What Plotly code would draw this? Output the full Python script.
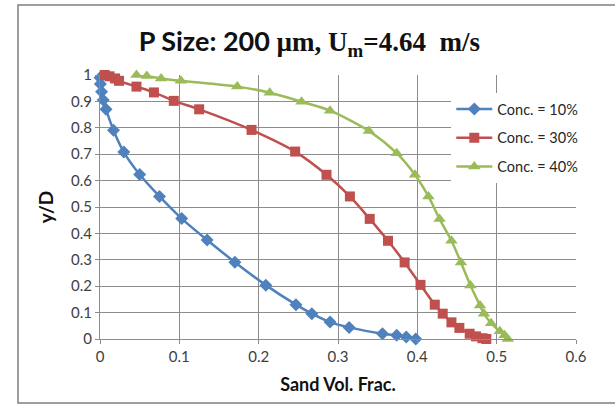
import plotly.graph_objects as go

# Sand concentration profiles across the pipe (y/D vs. volume fraction)
conc_10_x = [0.0, 0.0005, 0.002, 0.004, 0.0076, 0.017, 0.030, 0.050, 0.075, 0.103, 0.135,
             0.170, 0.209, 0.247, 0.267, 0.290, 0.314, 0.356, 0.374, 0.386, 0.398]
conc_10_y = [0.99, 0.966, 0.937, 0.905, 0.870, 0.791, 0.708, 0.623, 0.540, 0.456, 0.375,
             0.291, 0.204, 0.130, 0.096, 0.064, 0.044, 0.020, 0.014, 0.008, 0.0]

conc_30_x = [0.006, 0.012, 0.019, 0.024, 0.046, 0.068, 0.093, 0.125, 0.191, 0.246, 0.2855,
             0.315, 0.340, 0.363, 0.384, 0.404, 0.422, 0.432, 0.443, 0.453, 0.466, 0.474,
             0.482, 0.487]
conc_30_y = [1.0, 0.995, 0.987, 0.978, 0.956, 0.934, 0.902, 0.870, 0.792, 0.710, 0.622,
             0.540, 0.455, 0.372, 0.290, 0.205, 0.130, 0.096, 0.063, 0.042, 0.020, 0.010,
             0.003, 0.0]

conc_40_x = [0.046, 0.059, 0.077, 0.102, 0.173, 0.214, 0.254, 0.290, 0.339, 0.374, 0.397,
             0.414, 0.428, 0.443, 0.455, 0.467, 0.479, 0.484, 0.493, 0.504, 0.510, 0.514]
conc_40_y = [1.0, 0.996, 0.987, 0.978, 0.956, 0.933, 0.899, 0.865, 0.788, 0.704, 0.622,
             0.540, 0.455, 0.372, 0.290, 0.203, 0.127, 0.096, 0.060, 0.029, 0.014, 0.0]

series_names = ["Conc. = 10%", "Conc. = 30%", "Conc. = 40%"]
x_tickvals = [0, 0.1, 0.2, 0.3, 0.4, 0.5, 0.6]
x_ticktext = ["0", "0.1", "0.2", "0.3", "0.4", "0.5", "0.6"]
y_tickvals = [0, 0.1, 0.2, 0.3, 0.4, 0.5, 0.6, 0.7, 0.8, 0.9, 1.0]
y_ticktext = ["0", "0.1", "0.2", "0.3", "0.4", "0.5", "0.6", "0.7", "0.8", "0.9", "1"]

BLUE = "#4F81BD"
RED = "#C0504D"
GREEN = "#9BBB59"
GRID = "#8C8C8C"
FONT = "Lato, 'Open Sans', sans-serif"

fig = go.Figure()
styles = [
    (conc_10_x, conc_10_y, BLUE, "diamond", 10),
    (conc_30_x, conc_30_y, RED, "square", 10),
    (conc_40_x, conc_40_y, GREEN, "triangle-up", 11),
]
for i, (xs, ys, color, symbol, size) in enumerate(styles):
    fig.add_trace(go.Scatter(
        x=xs, y=ys, name=series_names[i], legendgroup=f"g{i}",
        mode="lines+markers",
        line=dict(color=color, width=2.5, shape="spline", smoothing=0.8),
        marker=dict(color=color, symbol=symbol, size=size),
        cliponaxis=False,
    ))

axis_common = dict(
    showgrid=True, gridcolor=GRID, gridwidth=1,
    zeroline=False, showline=True, linecolor=GRID, linewidth=1,
    ticks="outside", ticklen=4, tickcolor=GRID,
    tickfont=dict(family=FONT, size=15, color="#404040"),
)

fig.update_layout(
    width=615, height=404,
    margin=dict(l=100, r=39, t=75, b=65),
    paper_bgcolor="white", plot_bgcolor="white",
    title=dict(
        text="<b>P Size: 200 <span style='font-family:\"Liberation Serif\", serif'>µm, "
             "U<sub>m</sub>=4.64  m/s</span></b>",
        x=0.503, xanchor="center", y=0.897, yanchor="middle",
        font=dict(family=FONT, size=27, color="#111111"),
    ),
    xaxis=dict(
        range=[0, 0.6], tickvals=x_tickvals, ticktext=x_ticktext,
        title=dict(text="<b>Sand Vol. Frac.</b>", standoff=14,
                   font=dict(family=FONT, size=18, color="#111111")),
        **axis_common,
    ),
    yaxis=dict(
        range=[0, 1], tickvals=y_tickvals, ticktext=y_ticktext,
        title=dict(text="<b>y/D</b>", standoff=12,
                   font=dict(family=FONT, size=19, color="#111111")),
        **axis_common,
    ),
    legend=dict(
        x=0.738, y=0.932, xanchor="left", yanchor="top",
        bgcolor="white", borderwidth=0,
        font=dict(family=FONT, size=14.5, color="#262626"),
        itemwidth=36, tracegroupgap=7,
    ),
    shapes=[dict(
        type="rect", xref="paper", yref="paper",
        x0=-0.1723, x1=1.09, y0=-0.242, y1=1.265,
        line=dict(color="#7F7F7F", width=1.5), fillcolor="rgba(0,0,0,0)",
        layer="below",
    )],
)

fig.write_html("out.html")
